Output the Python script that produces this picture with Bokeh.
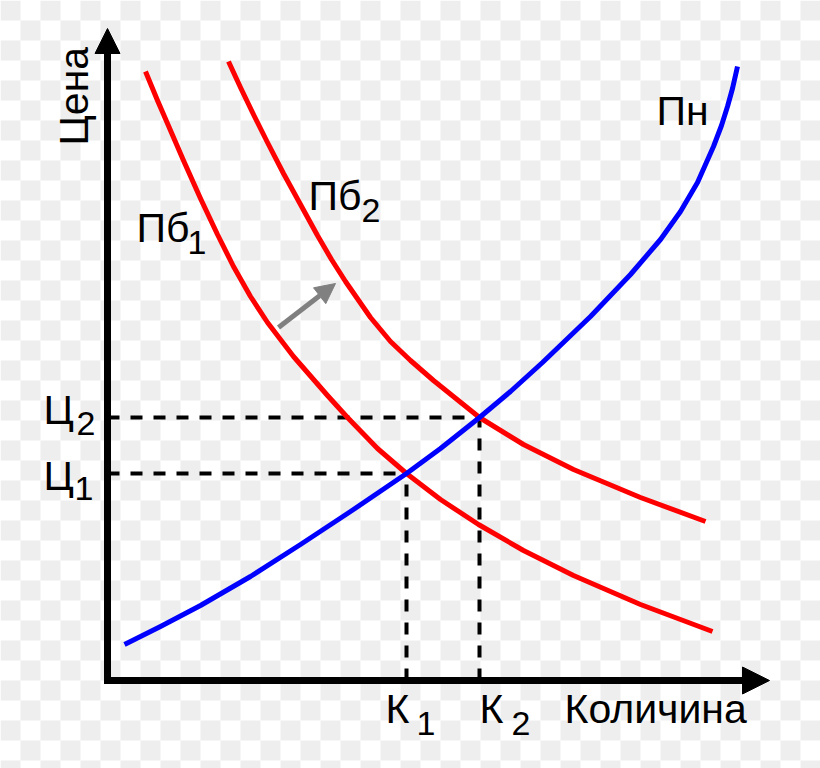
import numpy as np
from bokeh.plotting import figure
from bokeh.models import Range1d, Arrow, NormalHead
from bokeh.core.properties import value
from bokeh.embed import file_html
from bokeh.resources import INLINE

# ---- data (quantity, price) ----
supply_q = [17, 53, 93, 143, 193, 243, 299, 333, 372, 403, 435, 483, 523, 553, 573, 590, 606, 614, 620, 625, 630]
supply_p = [36, 54, 75, 104, 136, 169, 207, 232, 263, 289, 318, 364, 406, 441, 469, 498, 534, 555, 574, 592, 614]

demand1_q = [38, 50, 60, 76, 93, 110, 126, 143, 160, 186, 220, 240, 270, 299, 333, 371, 416, 466, 533, 605]
demand1_p = [609, 580, 557, 520, 482, 446, 414, 384, 358, 324, 285, 263, 232, 207, 181, 156, 130, 105, 76, 49]

demand2_q = [121, 133, 146, 160, 176, 193, 210, 224, 238, 263, 283, 303, 326, 372, 416, 466, 533, 598]
demand2_p = [619, 593, 566, 538, 507, 476, 445, 421, 399, 363, 339, 320, 300, 263, 236, 211, 183, 159]

equil_q = [299, 372]   # К1, К2
equil_p = [207, 263]   # Ц1, Ц2

shift_q = [171, 228]
shift_p = [353, 397]

axis_q_max = 662
axis_p_max = 652

main_text = ["Пб", "Пб", "Пн", "Ц", "Ц", "К", "К", "Количина"]
main_q = [29, 201, 549, -64, -64, 278, 372, 457]
main_p = [453, 485, 570, 271, 205, -28, -28, -28]

sub_text = ["1", "2", "2", "1", "1", "2"]
sub_q = [80, 254, -31, -33, 309, 404]
sub_p = [438, 470, 257, 192, -43, -43]

axis_title_q, axis_title_p = -34, 535

# ---- figure: 1 data unit = 1 pixel, origin at the axes' corner ----
OX, OY = 107, 680
W, H = 820, 768
p = figure(width=W, height=H, output_backend="svg", toolbar_location=None,
           x_range=Range1d(-OX, W - OX), y_range=Range1d(OY - H, OY),
           x_axis_location=None, y_axis_location=None, min_border=0)
p.grid.visible = False
p.outline_line_color = None
p.background_fill_color = "white"
p.border_fill_color = "white"

# checkerboard backdrop (20 px squares)
ii, jj = np.meshgrid(np.arange(W // 20 + 1), np.arange(H // 20 + 1))
mask = (ii + jj) % 2 == 0
cx = ii[mask] * 20 + 10 - OX
cy = OY - (jj[mask] * 20 + 10)
p.rect(x=cx, y=cy, width=20, height=20, fill_color="#eeeeee", line_color=None)

# dashed guides
dash = "12 11"
p.segment(x0=[0, 0], y0=equil_p, x1=equil_q, y1=equil_p,
          line_color="black", line_width=4, line_dash=dash)
p.segment(x0=equil_q, y0=[0, 0], x1=equil_q, y1=equil_p,
          line_color="black", line_width=4, line_dash=dash)

# curves
p.line(demand1_q, demand1_p, line_color="#ff0000", line_width=5, line_join="round")
p.line(demand2_q, demand2_p, line_color="#ff0000", line_width=5, line_join="round")
p.line(supply_q, supply_p, line_color="#0000ff", line_width=5, line_join="round")

# shift arrow
p.add_layout(Arrow(end=NormalHead(size=20, fill_color="#808080", line_color="#808080", line_width=1),
                   x_start=shift_q[0], y_start=shift_p[0], x_end=shift_q[1], y_end=shift_p[1],
                   line_color="#808080", line_width=5))

# axes with arrow heads
p.add_layout(Arrow(end=NormalHead(size=25, fill_color="black", line_color="black", line_width=1),
                   x_start=0, y_start=-3.5, x_end=0, y_end=axis_p_max,
                   line_color="black", line_width=7))
p.add_layout(Arrow(end=NormalHead(size=27, fill_color="black", line_color="black", line_width=1),
                   x_start=-3.5, y_start=0, x_end=axis_q_max, y_end=0,
                   line_color="black", line_width=7))

font = value("Liberation Sans")
p.text(x=main_q, y=main_p, text=main_text, text_font=font, text_font_size="41px",
       text_color="black", text_align="left", text_baseline="alphabetic")
p.text(x=sub_q, y=sub_p, text=sub_text, text_font=font, text_font_size="34px",
       text_color="black", text_align="left", text_baseline="alphabetic")
p.text(x=[axis_title_q], y=[axis_title_p], text=["Цена"], angle=np.pi / 2, text_font=font,
       text_font_size="41px", text_color="black", text_align="left",
       text_baseline="alphabetic")

open("out.html", "w").write(file_html(p, INLINE))
